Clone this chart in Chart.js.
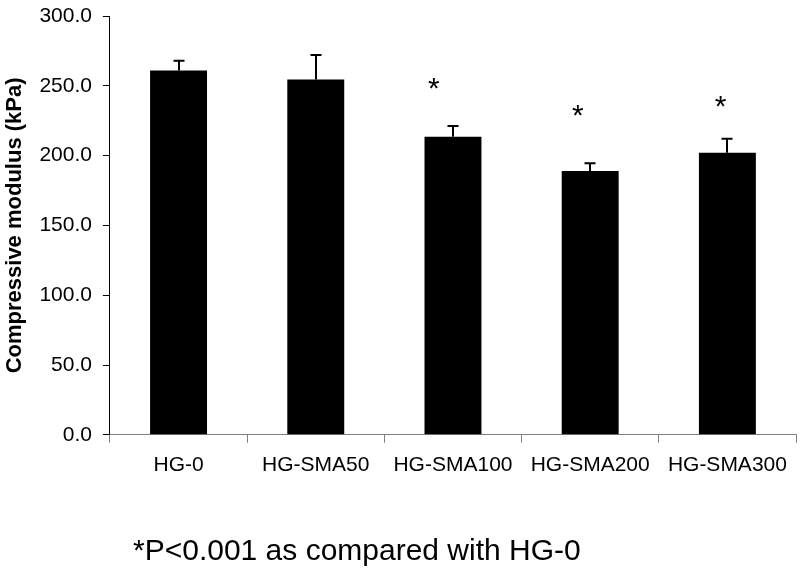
<!DOCTYPE html>
<html>
<head>
<meta charset="utf-8">
<script src="https://cdn.jsdelivr.net/npm/chart.js@4.4.1/dist/chart.umd.min.js"></script>
<style>
  html, body { margin: 0; padding: 0; background: #fff; }
  #wrap { position: relative; width: 800px; height: 569px; }
  #c { position: absolute; left: 0; top: 0; }
  #note { position: absolute; left: 133px; top: 535px; font: 30px "Liberation Sans", Arial, sans-serif; line-height: 30px; color: #000; white-space: nowrap; }
</style>
</head>
<body>
<div id="wrap">
  <canvas id="c" width="800" height="569"></canvas>
  <div id="note">*P&lt;0.001 as compared with HG-0</div>
</div>
<script>
const categories = ["HG-0", "HG-SMA50", "HG-SMA100", "HG-SMA200", "HG-SMA300"];
const modulus = [261.0, 254.5, 213.5, 189.0, 202.0];
const errors = [7.0, 17.5, 7.7, 5.5, 10.0];
// significance markers: level in kPa and position in category units
const starLevels = [null, null, 250.5, 231.0, 238.0];
const starCategoryPos = [null, null, 1.86, 2.91, 3.95];
const yTicks = [0, 50, 100, 150, 200, 250, 300];
const yTitle = "Compressive modulus (kPa)";

const FONT = '"Liberation Sans", Arial, sans-serif';

const extrasPlugin = {
  id: 'extras',
  afterDatasetsDraw(chart) {
    const ctx = chart.ctx;
    const meta = chart.getDatasetMeta(0);
    const y = chart.scales.y;
    const x = chart.scales.x;
    ctx.save();
    ctx.strokeStyle = '#000';
    ctx.lineWidth = 2;
    meta.data.forEach((bar, i) => {
      const bx = Math.round(bar.x);
      const top = y.getPixelForValue(modulus[i]);
      const eTop = y.getPixelForValue(modulus[i] + errors[i]);
      ctx.beginPath();
      ctx.moveTo(bx, top);
      ctx.lineTo(bx, eTop);
      ctx.moveTo(bx - 5.5, eTop);
      ctx.lineTo(bx + 5.5, eTop);
      ctx.stroke();
    });
    ctx.fillStyle = '#000';
    ctx.font = '30px ' + FONT;
    ctx.textAlign = 'center';
    ctx.textBaseline = 'alphabetic';
    const catW = x.width / categories.length;
    starLevels.forEach((lvl, i) => {
      if (lvl == null) return;
      const px = x.getPixelForValue(i) + (starCategoryPos[i] - i) * catW;
      const cy = y.getPixelForValue(lvl);
      ctx.fillText('*', px, cy + 13);
    });
    ctx.restore();
  }
};

new Chart(document.getElementById('c'), {
  type: 'bar',
  data: {
    labels: categories,
    datasets: [{
      data: modulus,
      backgroundColor: '#000',
      borderWidth: 0,
      categoryPercentage: 1.0,
      barPercentage: 0.415
    }]
  },
  options: {
    responsive: false,
    animation: false,
    devicePixelRatio: 1,
    layout: { padding: { left: 2, right: 4, top: 16, bottom: 81 } },
    plugins: { legend: { display: false }, tooltip: { enabled: false }, title: { display: false } },
    scales: {
      x: {
        grid: { display: true, drawOnChartArea: false, offset: true, tickLength: 8, color: '#808080', lineWidth: 1 },
        border: { color: '#808080', width: 1 },
        ticks: { color: '#000', font: { family: FONT, size: 21 }, padding: 10, maxRotation: 0, autoSkip: false }
      },
      y: {
        min: 0, max: 300,
        afterBuildTicks(scale) { scale.ticks = yTicks.map(v => ({ value: v })); },
        afterFit(scale) { scale.paddingTop = 0; scale.paddingBottom = 0; },
        grid: { display: true, drawOnChartArea: false, tickLength: 7, color: '#000', lineWidth: 1 },
        border: { color: '#000', width: 1 },
        ticks: { color: '#000', font: { family: FONT, size: 21 }, padding: 11, callback: v => Number(v).toFixed(1) },
        title: { display: true, text: yTitle, color: '#000', font: { family: FONT, size: 22, weight: 'bold' }, padding: { top: 0, bottom: 0 } }
      }
    }
  },
  plugins: [extrasPlugin]
});
</script>
</body>
</html>
